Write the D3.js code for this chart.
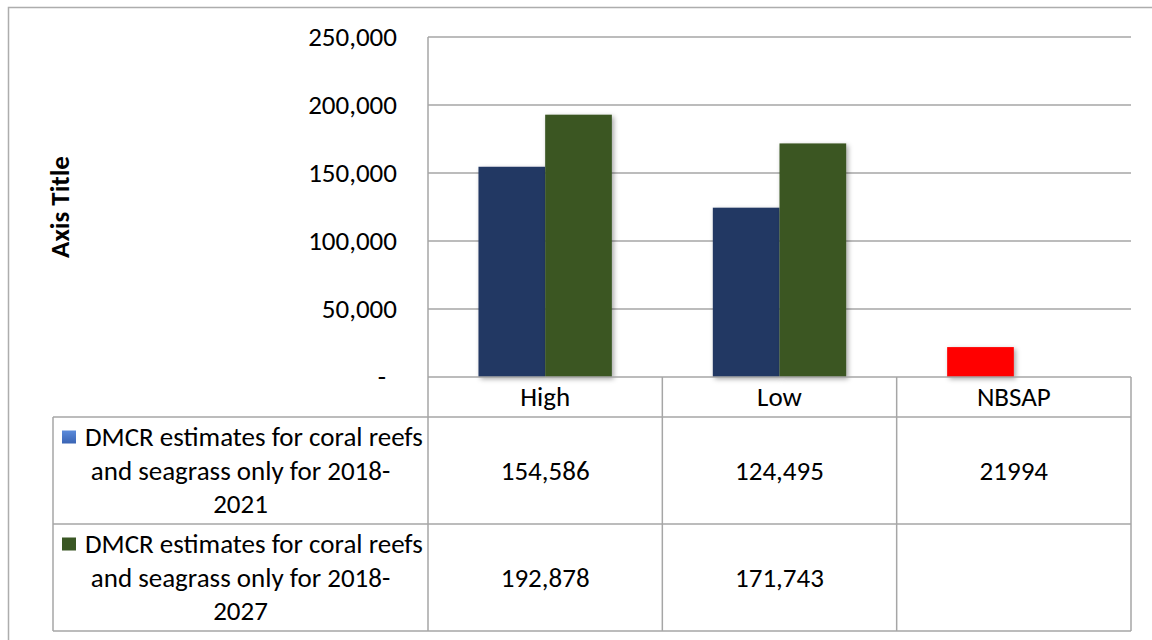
<!DOCTYPE html>
<html>
<head>
<meta charset="utf-8">
<script src="https://cdn.jsdelivr.net/npm/d3@7"></script>
<style>
  body { margin: 0; background: #fff; }
  svg { font-family: Calibri, Carlito, "Open Sans", sans-serif; }
</style>
</head>
<body>
<svg id="chart" width="1152" height="640"></svg>
<script>
// chart values
const categories = ["High", "Low", "NBSAP"];
const seriesNames = [
    "DMCR estimates for coral reefs and seagrass only for 2018-2021",
    "DMCR estimates for coral reefs and seagrass only for 2018-2027"
];
const series1 = [154586, 124495, 21994];
const series2 = [192878, 171743, null];
const yTicks = [0, 50000, 100000, 150000, 200000, 250000];
// legend text as it wraps in the table cell
const legendLines = [
    ["DMCR estimates for coral reefs", "and seagrass only for 2018-", "2021"],
    ["DMCR estimates for coral reefs", "and seagrass only for 2018-", "2027"]
];

const config = {
    plotLeft: 428, plotRight: 1131,
    plotTop: 37, plotBottom: 377,
    legendLeft: 53,
    rowBottoms: [417, 524, 631],
    fontSize: 27,
    barColors: ["#203864", "#3A5724"],
    keyColors: ["#4472C4", "#3A5724"],
    pointColors: {NBSAP: "#FF0000"},
    gridColor: "#A6A6A6"
};

const svg = d3.select("#chart");

// drop shadow like the Excel bars
const defs = svg.append("defs");
defs.append("filter")
    .attr("id", "shadow")
    .attr("x", "-20%").attr("y", "-20%")
    .attr("width", "150%").attr("height", "150%")
    .append("feDropShadow")
    .attr("dx", 2).attr("dy", 2)
    .attr("stdDeviation", 2.5)
    .attr("flood-color", "#000")
    .attr("flood-opacity", 0.35);

const keyGrad = defs.append("linearGradient")
    .attr("id", "keyBlue")
    .attr("x1", 0).attr("y1", 0).attr("x2", 0).attr("y2", 1);
keyGrad.append("stop").attr("offset", "0%").attr("stop-color", "#5B8BDB");
keyGrad.append("stop").attr("offset", "100%").attr("stop-color", "#3A64B4");

// outer chart border (only top & left visible in the frame)
svg.append("rect")
    .attr("x", 8.5).attr("y", 7.5)
    .attr("width", 1160).attr("height", 650)
    .attr("fill", "none")
    .attr("stroke", "#ADADAD")
    .attr("stroke-width", 1.5);

// scales
const x = d3.scaleBand()
    .domain(categories)
    .range([config.plotLeft, config.plotRight])
    .paddingInner(0).paddingOuter(0);

const xSeries = d3.scaleBand()
    .domain([0, 1])
    .range([0, x.bandwidth()])
    .paddingInner(0).paddingOuter(0.757);

const y = d3.scaleLinear()
    .domain([0, 250000])
    .range([config.plotBottom, config.plotTop]);

// gridlines
svg.append("g")
    .selectAll("line")
    .data(yTicks.filter(d => d > 0))
    .join("line")
    .attr("x1", config.plotLeft).attr("x2", config.plotRight)
    .attr("y1", d => y(d)).attr("y2", d => y(d))
    .attr("stroke", config.gridColor)
    .attr("stroke-width", 1.5);

// y axis
const fmt = d3.format(",");
const yAxis = d3.axisLeft(y)
    .tickValues(yTicks)
    .tickSize(0)
    .tickPadding(31)
    .tickFormat(d => d === 0 ? "-" : fmt(d));

const yAxisG = svg.append("g")
    .attr("transform", `translate(${config.plotLeft},0)`)
    .call(yAxis)
    .attr("font-family", null)
    .attr("font-size", config.fontSize);
yAxisG.select(".domain").remove();
yAxisG.selectAll("text")
    .attr("fill", "#000")
    .attr("dx", d => d === 0 ? -11 : 0);

// axis title
svg.append("text")
    .attr("transform", `translate(60,${(config.plotTop + config.plotBottom) / 2}) rotate(-90)`)
    .attr("text-anchor", "middle")
    .attr("dy", "0.35em")
    .attr("font-size", config.fontSize)
    .attr("font-weight", "bold")
    .attr("fill", "#000")
    .text("Axis Title");

// bars
const barData = [];
categories.forEach((c, i) => {
    [series1, series2].forEach((s, j) => {
        if (s[i] != null) barData.push({cat: c, series: j, value: s[i]});
    });
});

svg.append("g")
    .selectAll("rect")
    .data(barData)
    .join("rect")
    .attr("x", d => x(d.cat) + xSeries(d.series))
    .attr("width", xSeries.bandwidth())
    .attr("y", d => y(d.value))
    .attr("height", d => y(0) - y(d.value))
    .attr("fill", d => config.pointColors[d.cat] || config.barColors[d.series])
    .attr("filter", "url(#shadow)");

// data table lines
const lines = svg.append("g")
    .attr("stroke", config.gridColor)
    .attr("stroke-width", 1.5);

const [r0, r1, r2] = config.rowBottoms;
const hLines = [
    {x1: config.plotLeft, x2: config.plotRight, y: config.plotBottom},
    {x1: config.legendLeft, x2: config.plotRight, y: r0},
    {x1: config.legendLeft, x2: config.plotRight, y: r1},
    {x1: config.legendLeft, x2: config.plotRight, y: r2}
];
lines.selectAll("line.h")
    .data(hLines)
    .join("line")
    .attr("class", "h")
    .attr("x1", d => d.x1).attr("x2", d => d.x2)
    .attr("y1", d => d.y).attr("y2", d => d.y);

const vLines = [
    {x: config.legendLeft, y1: r0, y2: r2},
    {x: config.plotLeft, y1: config.plotTop, y2: r2}
].concat(categories.map(c => ({x: x(c) + x.bandwidth(), y1: config.plotBottom, y2: r2})));
lines.selectAll("line.v")
    .data(vLines)
    .join("line")
    .attr("class", "v")
    .attr("x1", d => d.x).attr("x2", d => d.x)
    .attr("y1", d => d.y1).attr("y2", d => d.y2);

// category labels
svg.append("g")
    .selectAll("text")
    .data(categories)
    .join("text")
    .attr("x", d => x(d) + x.bandwidth() / 2)
    .attr("y", (config.plotBottom + r0) / 2)
    .attr("dy", "0.35em")
    .attr("text-anchor", "middle")
    .attr("font-size", config.fontSize)
    .text(d => d);

// value cells
const rowMids = [(r0 + r1) / 2, (r1 + r2) / 2];
[series1, series2].forEach((s, j) => {
    svg.append("g")
        .selectAll("text")
        .data(categories.map((c, i) => ({cat: c, value: s[i]})).filter(d => d.value != null))
        .join("text")
        .attr("x", d => x(d.cat) + x.bandwidth() / 2)
        .attr("y", rowMids[j])
        .attr("dy", "0.35em")
        .attr("text-anchor", "middle")
        .attr("font-size", config.fontSize)
        .text(d => d.cat === "NBSAP" ? String(d.value) : fmt(d.value));
});

// legend cells
const cellMid = (config.legendLeft + config.plotLeft) / 2;
const lineGap = 33.5;
seriesNames.forEach((name, j) => {
    const g = svg.append("g").attr("class", "legend-cell");
    const cy = rowMids[j];
    const firstY = cy - lineGap;
    g.append("rect")
        .attr("x", 62).attr("y", firstY - 6.5)
        .attr("width", 14).attr("height", 13)
        .attr("fill", j === 0 ? "url(#keyBlue)" : config.keyColors[j]);
    legendLines[j].forEach((t, k) => {
        g.append("text")
            .attr("x", k === 0 ? 85 : cellMid)
            .attr("y", firstY + k * lineGap)
            .attr("dy", "0.35em")
            .attr("text-anchor", k === 0 ? "start" : "middle")
            .attr("font-size", config.fontSize)
            .text(t);
    });
});
</script>
</body>
</html>
